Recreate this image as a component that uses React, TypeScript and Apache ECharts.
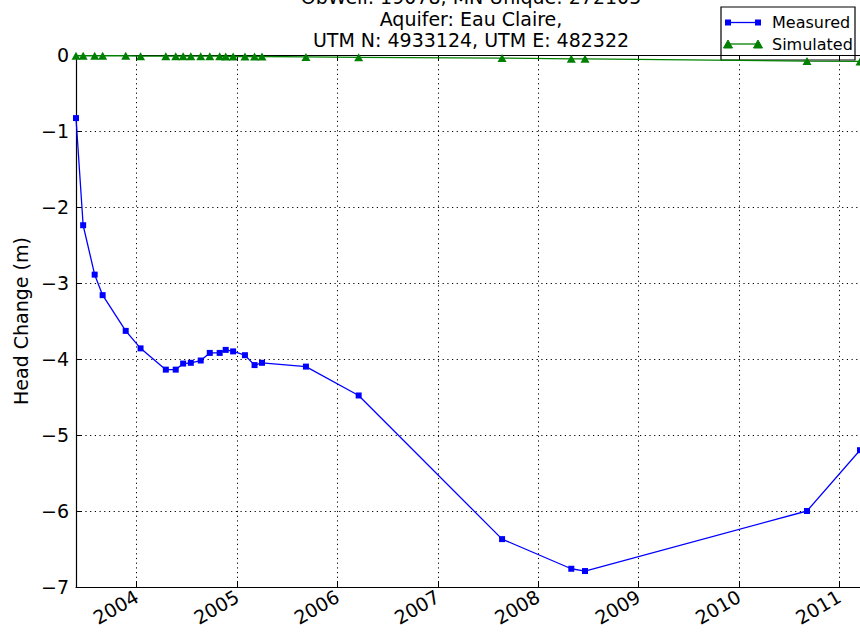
import React, { useEffect, useRef } from "react";
import * as echarts from "echarts";

const titleLines = [
  "ObWell: 19078, MN Unique: 272105",
  "Aquifer: Eau Claire,",
  "UTM N: 4933124, UTM E: 482322",
];

const dates = [
  "2003-05-25", "2003-06-20", "2003-08-01", "2003-08-30", "2003-11-22",
  "2004-01-15", "2004-04-16", "2004-05-22", "2004-06-18", "2004-07-16",
  "2004-08-21", "2004-09-23", "2004-10-29", "2004-11-20", "2004-12-17",
  "2005-01-29", "2005-03-05", "2005-04-01", "2005-09-08", "2006-03-19",
  "2007-08-23", "2008-05-01", "2008-06-20", "2010-09-06", "2011-03-18",
];

const measured = [
  -0.83, -2.24, -2.89, -3.16, -3.63,
  -3.86, -4.14, -4.14, -4.06, -4.05,
  -4.02, -3.92, -3.92, -3.88, -3.9,
  -3.95, -4.08, -4.05, -4.1, -4.48,
  -6.37, -6.76, -6.79, -6.0, -5.2,
];

const simulated = [
  -0.01, -0.01, -0.01, -0.01, -0.01,
  -0.015, -0.015, -0.015, -0.015, -0.015,
  -0.015, -0.015, -0.015, -0.02, -0.02,
  -0.02, -0.02, -0.02, -0.025, -0.03,
  -0.04, -0.05, -0.05, -0.08, -0.085,
];

const xMin = "2003-05-25";
const xMax = "2011-03-18";
const yMin = -7;
const yMax = 0;
const yStep = 1;

const FONT = "DejaVu Sans";
const AXIS_FS = 19;
const BLUE = "#0000ff";
const GREEN = "#008000";

export default function App() {
  const ref = useRef<HTMLDivElement>(null);

  useEffect(() => {
    if (!ref.current) return;
    const chart = echarts.init(ref.current, undefined, { renderer: "svg" });
    const toTs = (s: string) => new Date(s + "T00:00:00").getTime();
    const yearMs = 365 * 24 * 3600 * 1000;
    const yearLabel = (v: number) => {
      const d = new Date(v);
      return d.getMonth() === 0 && d.getDate() === 1 ? String(d.getFullYear()) : "";
    };

    const tri = (x: number, y: number) => ({
      type: "polygon",
      shape: { points: [[x - 4.5, y + 4], [x, y - 4], [x + 4.5, y + 4]] },
      style: { fill: GREEN, stroke: GREEN },
    });

    chart.setOption({
      animation: false,
      backgroundColor: "#ffffff",
      textStyle: { fontFamily: FONT },
      grid: { left: 76, top: 55, right: 0, height: 532, containLabel: false, outerBoundsMode: "none" },
      xAxis: [
        {
          type: "time",
          position: "bottom",
          min: toTs(xMin),
          max: toTs(xMax),
          minInterval: yearMs,
          maxInterval: yearMs,
          axisLine: { show: true, onZero: false, lineStyle: { color: "#000", width: 1.2 } },
          axisTick: { show: true, inside: true, length: 6, lineStyle: { color: "#000" } },
          axisLabel: {
            show: true,
            rotate: 30,
            margin: 8,
            color: "#000",
            fontSize: AXIS_FS,
            fontFamily: FONT,
            formatter: yearLabel,
            hideOverlap: false,
          },
          splitLine: { show: true, lineStyle: { color: "#000", type: [1.2, 3.5], width: 1 } },
          minorTick: { show: false },
        },
        {
          type: "time",
          position: "top",
          min: toTs(xMin),
          max: toTs(xMax),
          minInterval: yearMs,
          maxInterval: yearMs,
          axisLine: { show: true, onZero: false, lineStyle: { color: "#000", width: 1.2 } },
          axisTick: { show: true, inside: true, length: 6, lineStyle: { color: "#000" } },
          axisLabel: { show: false },
          splitLine: { show: false },
        },
      ],
      yAxis: {
        type: "value",
        min: yMin,
        max: yMax,
        interval: yStep,
        name: "Head Change (m)",
        nameLocation: "middle",
        nameGap: 42,
        nameTextStyle: { color: "#000", fontSize: AXIS_FS, fontFamily: FONT },
        axisLine: { show: true, lineStyle: { color: "#000", width: 1.2 } },
        axisTick: { show: true, inside: true, length: 6, lineStyle: { color: "#000" } },
        axisLabel: {
          color: "#000",
          fontSize: AXIS_FS,
          fontFamily: FONT,
          margin: 7,
          formatter: (v: number) => String(v).replace("-", "\u2212"),
        },
        splitLine: { show: true, lineStyle: { color: "#000", type: [1.2, 3.5], width: 1 } },
      },
      series: [
        {
          name: "Measured",
          type: "line",
          xAxisIndex: 0,
          data: dates.map((d, i) => [d, measured[i]]),
          symbol: "rect",
          symbolSize: 6,
          showAllSymbol: true,
          lineStyle: { color: BLUE, width: 1.3 },
          itemStyle: { color: BLUE },
          z: 3,
        },
        {
          name: "Simulated",
          type: "line",
          xAxisIndex: 0,
          data: dates.map((d, i) => [d, simulated[i]]),
          symbol: "triangle",
          symbolSize: [9, 8],
          showAllSymbol: true,
          lineStyle: { color: GREEN, width: 1.3 },
          itemStyle: { color: GREEN },
          z: 2,
        },
      ],
      graphic: [
        ...titleLines.map((t, i) => ({
          type: "text",
          x: 471,
          y: -3 + i * 21.7,
          style: {
            text: t,
            fill: "#000",
            font: `19px ${FONT}`,
            textAlign: "center",
            textVerticalAlign: "middle",
          },
          z: 10,
        })),
        {
          type: "group",
          z: 20,
          children: [
            {
              type: "rect",
              shape: { x: 721, y: 7, width: 134, height: 53 },
              style: { fill: "#fff", stroke: "#000", lineWidth: 1.2 },
            },
            {
              type: "line",
              shape: { x1: 728, y1: 22.5, x2: 758, y2: 22.5 },
              style: { stroke: BLUE, lineWidth: 1.3 },
            },
            { type: "rect", shape: { x: 725, y: 19.5, width: 6, height: 6 }, style: { fill: BLUE } },
            { type: "rect", shape: { x: 755, y: 19.5, width: 6, height: 6 }, style: { fill: BLUE } },
            {
              type: "text",
              x: 772,
              y: 22.5,
              style: { text: "Measured", fill: "#000", font: `16px ${FONT}`, textVerticalAlign: "middle" },
            },
            {
              type: "line",
              shape: { x1: 728, y1: 44, x2: 758, y2: 44 },
              style: { stroke: GREEN, lineWidth: 1.3 },
            },
            tri(728, 44),
            tri(758, 44),
            {
              type: "text",
              x: 772,
              y: 44,
              style: { text: "Simulated", fill: "#000", font: `16px ${FONT}`, textVerticalAlign: "middle" },
            },
          ],
        },
      ],
    });

    return () => chart.dispose();
  }, []);

  return (
    <div
      ref={ref}
      style={{ position: "absolute", left: 0, top: 0, width: 860, height: 637 }}
    />
  );
}
